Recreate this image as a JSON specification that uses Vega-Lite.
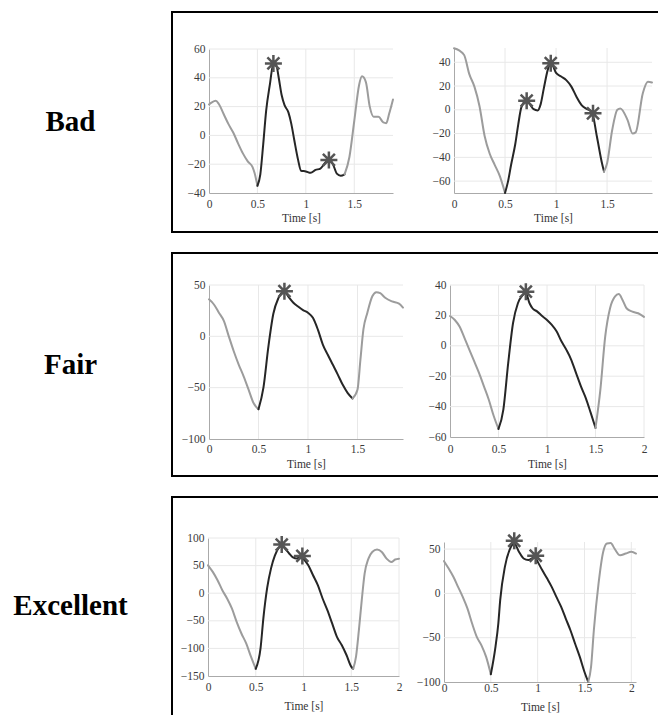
{
  "$schema": "https://vega.github.io/schema/vega-lite/v6.json",
  "padding": {"left": 0, "top": 11, "right": 0, "bottom": 0},
  "background": "white",
  "spacing": 19,
  "config": {
    "view": {"stroke": null},
    "axis": {
      "labelFont": "Liberation Serif", "labelFontSize": 11.5, "labelColor": "#3a3a3a",
      "titleFont": "Liberation Serif", "titleFontSize": 11.5, "titleFontWeight": "normal", "titleColor": "#333333",
      "domainColor": "#aaaaaa", "domainWidth": 1, "ticks": false, "grid": false,
      "labelFlush": false, "labelOverlap": false, "labelPadding": 4, "titlePadding": 4
    },
    "line": {"strokeWidth": 2, "interpolate": "monotone", "strokeJoin": "round", "strokeCap": "round"},
    "rule": {"color": "#e8e8e8", "strokeWidth": 1},
    "point": {"shape": "M0,-1L0,1M-1,0L1,0M-0.707,-0.707L0.707,0.707M-0.707,0.707L0.707,-0.707", "size": 289, "filled": false, "color": "#555555", "strokeWidth": 2.5, "opacity": 1}
  },
  "datasets": {
    "p1": [
      {"t":0,"v":21.5,"s":"a"},{"t":0.03,"v":23,"s":"a"},{"t":0.07,"v":24,"s":"a"},{"t":0.1,"v":22,"s":"a"},{"t":0.15,"v":15,"s":"a"},{"t":0.2,"v":8,"s":"a"},{"t":0.25,"v":2,"s":"a"},{"t":0.3,"v":-5.5,"s":"a"},{"t":0.35,"v":-12.5,"s":"a"},{"t":0.4,"v":-18,"s":"a"},{"t":0.45,"v":-22,"s":"a"},{"t":0.47,"v":-26,"s":"a"},{"t":0.5,"v":-35,"s":"a"},
      {"t":0.5,"v":-35,"s":"b"},{"t":0.53,"v":-27,"s":"b"},{"t":0.56,"v":-6,"s":"b"},{"t":0.59,"v":17,"s":"b"},{"t":0.63,"v":36,"s":"b"},{"t":0.665,"v":50,"s":"b"},{"t":0.69,"v":50,"s":"b"},{"t":0.72,"v":40,"s":"b"},{"t":0.75,"v":28,"s":"b"},{"t":0.78,"v":21,"s":"b"},{"t":0.82,"v":16,"s":"b"},{"t":0.85,"v":8,"s":"b"},{"t":0.88,"v":-3,"s":"b"},{"t":0.92,"v":-17,"s":"b"},{"t":0.95,"v":-24.5,"s":"b"},{"t":1.0,"v":-25,"s":"b"},{"t":1.05,"v":-26,"s":"b"},{"t":1.1,"v":-24,"s":"b"},{"t":1.15,"v":-23,"s":"b"},{"t":1.2,"v":-19,"s":"b"},{"t":1.24,"v":-16.5,"s":"b"},{"t":1.28,"v":-20,"s":"b"},{"t":1.32,"v":-26.5,"s":"b"},{"t":1.36,"v":-28,"s":"b"},{"t":1.4,"v":-27,"s":"b"},
      {"t":1.4,"v":-27,"s":"c"},{"t":1.45,"v":-15,"s":"c"},{"t":1.5,"v":10,"s":"c"},{"t":1.55,"v":35,"s":"c"},{"t":1.58,"v":41,"s":"c"},{"t":1.62,"v":37,"s":"c"},{"t":1.66,"v":20,"s":"c"},{"t":1.7,"v":13,"s":"c"},{"t":1.75,"v":13,"s":"c"},{"t":1.8,"v":9,"s":"c"},{"t":1.83,"v":8.5,"s":"c"},{"t":1.86,"v":15,"s":"c"},{"t":1.9,"v":25,"s":"c"}
    ],
    "m1": [{"t":0.665,"v":50},{"t":1.238,"v":-17}],
    "p2": [
      {"t":0,"v":51.8,"s":"a"},{"t":0.05,"v":50,"s":"a"},{"t":0.1,"v":46,"s":"a"},{"t":0.15,"v":30,"s":"a"},{"t":0.2,"v":19.5,"s":"a"},{"t":0.25,"v":3,"s":"a"},{"t":0.3,"v":-22,"s":"a"},{"t":0.35,"v":-37,"s":"a"},{"t":0.4,"v":-46.5,"s":"a"},{"t":0.45,"v":-56,"s":"a"},{"t":0.48,"v":-64,"s":"a"},{"t":0.5,"v":-70,"s":"a"},
      {"t":0.5,"v":-70,"s":"b"},{"t":0.53,"v":-60,"s":"b"},{"t":0.56,"v":-46,"s":"b"},{"t":0.6,"v":-29,"s":"b"},{"t":0.63,"v":-12,"s":"b"},{"t":0.66,"v":2,"s":"b"},{"t":0.71,"v":8,"s":"b"},{"t":0.74,"v":5,"s":"b"},{"t":0.78,"v":0.5,"s":"b"},{"t":0.82,"v":-0.5,"s":"b"},{"t":0.85,"v":5,"s":"b"},{"t":0.88,"v":18,"s":"b"},{"t":0.92,"v":34,"s":"b"},{"t":0.95,"v":39.5,"s":"b"},{"t":1.0,"v":31,"s":"b"},{"t":1.05,"v":28,"s":"b"},{"t":1.1,"v":25,"s":"b"},{"t":1.15,"v":19.5,"s":"b"},{"t":1.2,"v":11,"s":"b"},{"t":1.25,"v":4,"s":"b"},{"t":1.3,"v":0.7,"s":"b"},{"t":1.35,"v":-1.5,"s":"b"},{"t":1.4,"v":-22.5,"s":"b"},{"t":1.45,"v":-45,"s":"b"},{"t":1.47,"v":-52,"s":"b"},
      {"t":1.47,"v":-52,"s":"c"},{"t":1.5,"v":-45,"s":"c"},{"t":1.55,"v":-17,"s":"c"},{"t":1.6,"v":0,"s":"c"},{"t":1.63,"v":1.2,"s":"c"},{"t":1.7,"v":-8.5,"s":"c"},{"t":1.75,"v":-20,"s":"c"},{"t":1.78,"v":-19,"s":"c"},{"t":1.85,"v":14,"s":"c"},{"t":1.9,"v":23.7,"s":"c"},{"t":1.94,"v":23,"s":"c"}
    ],
    "m2": [{"t":0.712,"v":7.7},{"t":0.948,"v":39.2},{"t":1.362,"v":-3}],
    "p3": [
      {"t":0,"v":36,"s":"a"},{"t":0.05,"v":31,"s":"a"},{"t":0.1,"v":23,"s":"a"},{"t":0.15,"v":15,"s":"a"},{"t":0.2,"v":0,"s":"a"},{"t":0.25,"v":-14.5,"s":"a"},{"t":0.3,"v":-27.5,"s":"a"},{"t":0.35,"v":-39,"s":"a"},{"t":0.4,"v":-52,"s":"a"},{"t":0.45,"v":-65,"s":"a"},{"t":0.5,"v":-71,"s":"a"},
      {"t":0.5,"v":-71,"s":"b"},{"t":0.55,"v":-50,"s":"b"},{"t":0.6,"v":-10,"s":"b"},{"t":0.65,"v":22,"s":"b"},{"t":0.7,"v":37,"s":"b"},{"t":0.76,"v":44,"s":"b"},{"t":0.8,"v":39,"s":"b"},{"t":0.85,"v":33,"s":"b"},{"t":0.9,"v":29,"s":"b"},{"t":0.95,"v":25.5,"s":"b"},{"t":1.0,"v":23,"s":"b"},{"t":1.05,"v":18,"s":"b"},{"t":1.1,"v":6.5,"s":"b"},{"t":1.15,"v":-8,"s":"b"},{"t":1.2,"v":-18,"s":"b"},{"t":1.25,"v":-27.5,"s":"b"},{"t":1.3,"v":-37,"s":"b"},{"t":1.35,"v":-47,"s":"b"},{"t":1.4,"v":-55,"s":"b"},{"t":1.45,"v":-60.5,"s":"b"},
      {"t":1.45,"v":-60.5,"s":"c"},{"t":1.5,"v":-52,"s":"c"},{"t":1.53,"v":-22.5,"s":"c"},{"t":1.56,"v":6.7,"s":"c"},{"t":1.6,"v":23,"s":"c"},{"t":1.65,"v":39,"s":"c"},{"t":1.69,"v":43,"s":"c"},{"t":1.73,"v":42,"s":"c"},{"t":1.78,"v":37.6,"s":"c"},{"t":1.85,"v":34,"s":"c"},{"t":1.92,"v":31.8,"s":"c"},{"t":1.96,"v":28,"s":"c"}
    ],
    "m3": [{"t":0.762,"v":44}],
    "p4": [
      {"t":0,"v":19.6,"s":"a"},{"t":0.05,"v":17,"s":"a"},{"t":0.1,"v":12.5,"s":"a"},{"t":0.15,"v":5,"s":"a"},{"t":0.2,"v":-2.7,"s":"a"},{"t":0.25,"v":-10.3,"s":"a"},{"t":0.3,"v":-18,"s":"a"},{"t":0.35,"v":-26.7,"s":"a"},{"t":0.4,"v":-35.5,"s":"a"},{"t":0.45,"v":-46,"s":"a"},{"t":0.5,"v":-54.7,"s":"a"},
      {"t":0.5,"v":-54.7,"s":"b"},{"t":0.55,"v":-42,"s":"b"},{"t":0.6,"v":-11.4,"s":"b"},{"t":0.65,"v":15,"s":"b"},{"t":0.7,"v":28,"s":"b"},{"t":0.75,"v":33.4,"s":"b"},{"t":0.78,"v":35,"s":"b"},{"t":0.82,"v":28,"s":"b"},{"t":0.85,"v":24.7,"s":"b"},{"t":0.9,"v":22.5,"s":"b"},{"t":0.95,"v":19.6,"s":"b"},{"t":1.0,"v":17,"s":"b"},{"t":1.05,"v":13.7,"s":"b"},{"t":1.1,"v":9.4,"s":"b"},{"t":1.15,"v":2.8,"s":"b"},{"t":1.2,"v":-2.7,"s":"b"},{"t":1.25,"v":-9.2,"s":"b"},{"t":1.3,"v":-18,"s":"b"},{"t":1.35,"v":-26.7,"s":"b"},{"t":1.4,"v":-34.4,"s":"b"},{"t":1.45,"v":-44,"s":"b"},{"t":1.5,"v":-54,"s":"b"},
      {"t":1.5,"v":-54,"s":"c"},{"t":1.55,"v":-29,"s":"c"},{"t":1.6,"v":6,"s":"c"},{"t":1.65,"v":24.7,"s":"c"},{"t":1.7,"v":32.3,"s":"c"},{"t":1.74,"v":34,"s":"c"},{"t":1.78,"v":30,"s":"c"},{"t":1.82,"v":24.7,"s":"c"},{"t":1.88,"v":22.5,"s":"c"},{"t":1.94,"v":21.4,"s":"c"},{"t":2.0,"v":19,"s":"c"}
    ],
    "m4": [{"t":0.782,"v":35.6}],
    "p5": [
      {"t":0,"v":50.6,"s":"a"},{"t":0.05,"v":38.6,"s":"a"},{"t":0.1,"v":23.5,"s":"a"},{"t":0.15,"v":5.4,"s":"a"},{"t":0.2,"v":-9.6,"s":"a"},{"t":0.25,"v":-27.7,"s":"a"},{"t":0.3,"v":-51.8,"s":"a"},{"t":0.35,"v":-73,"s":"a"},{"t":0.4,"v":-91,"s":"a"},{"t":0.45,"v":-115,"s":"a"},{"t":0.5,"v":-137,"s":"a"},
      {"t":0.5,"v":-137,"s":"b"},{"t":0.55,"v":-100,"s":"b"},{"t":0.58,"v":-45,"s":"b"},{"t":0.62,"v":10,"s":"b"},{"t":0.66,"v":45,"s":"b"},{"t":0.7,"v":68,"s":"b"},{"t":0.74,"v":82,"s":"b"},{"t":0.77,"v":86,"s":"b"},{"t":0.81,"v":80,"s":"b"},{"t":0.85,"v":72,"s":"b"},{"t":0.89,"v":65,"s":"b"},{"t":0.93,"v":63,"s":"b"},{"t":0.97,"v":66,"s":"b"},{"t":1.0,"v":62,"s":"b"},{"t":1.05,"v":50.6,"s":"b"},{"t":1.1,"v":32.5,"s":"b"},{"t":1.15,"v":14.5,"s":"b"},{"t":1.2,"v":-9.6,"s":"b"},{"t":1.25,"v":-30.7,"s":"b"},{"t":1.3,"v":-54.8,"s":"b"},{"t":1.35,"v":-79,"s":"b"},{"t":1.4,"v":-94,"s":"b"},{"t":1.45,"v":-112,"s":"b"},{"t":1.5,"v":-133,"s":"b"},{"t":1.52,"v":-137,"s":"b"},
      {"t":1.52,"v":-137,"s":"c"},{"t":1.55,"v":-115,"s":"c"},{"t":1.58,"v":-67,"s":"c"},{"t":1.61,"v":-12.6,"s":"c"},{"t":1.64,"v":35.5,"s":"c"},{"t":1.68,"v":62.6,"s":"c"},{"t":1.72,"v":74.7,"s":"c"},{"t":1.77,"v":79,"s":"c"},{"t":1.82,"v":74.7,"s":"c"},{"t":1.87,"v":62.6,"s":"c"},{"t":1.92,"v":56.6,"s":"c"},{"t":1.96,"v":61,"s":"c"},{"t":2.0,"v":62.6,"s":"c"}
    ],
    "m5": [{"t":0.772,"v":88},{"t":0.988,"v":67.5}],
    "p6": [
      {"t":0,"v":36.4,"s":"a"},{"t":0.05,"v":28,"s":"a"},{"t":0.1,"v":18.7,"s":"a"},{"t":0.15,"v":7.4,"s":"a"},{"t":0.2,"v":-4,"s":"a"},{"t":0.25,"v":-17,"s":"a"},{"t":0.3,"v":-34,"s":"a"},{"t":0.35,"v":-49,"s":"a"},{"t":0.4,"v":-58.6,"s":"a"},{"t":0.45,"v":-71.7,"s":"a"},{"t":0.5,"v":-91.3,"s":"a"},
      {"t":0.5,"v":-91.3,"s":"b"},{"t":0.55,"v":-60,"s":"b"},{"t":0.58,"v":-34,"s":"b"},{"t":0.6,"v":-7.7,"s":"b"},{"t":0.65,"v":30,"s":"b"},{"t":0.7,"v":49,"s":"b"},{"t":0.75,"v":56.4,"s":"b"},{"t":0.8,"v":47,"s":"b"},{"t":0.85,"v":39.4,"s":"b"},{"t":0.9,"v":37.6,"s":"b"},{"t":0.97,"v":41,"s":"b"},{"t":1.0,"v":35.7,"s":"b"},{"t":1.05,"v":26,"s":"b"},{"t":1.1,"v":17,"s":"b"},{"t":1.15,"v":7.4,"s":"b"},{"t":1.2,"v":-4,"s":"b"},{"t":1.25,"v":-15,"s":"b"},{"t":1.3,"v":-28.4,"s":"b"},{"t":1.35,"v":-41.6,"s":"b"},{"t":1.4,"v":-56.8,"s":"b"},{"t":1.45,"v":-71.7,"s":"b"},{"t":1.5,"v":-88.7,"s":"b"},{"t":1.54,"v":-100,"s":"b"},
      {"t":1.54,"v":-100,"s":"c"},{"t":1.57,"v":-83,"s":"c"},{"t":1.6,"v":-41.6,"s":"c"},{"t":1.65,"v":11,"s":"c"},{"t":1.7,"v":47,"s":"c"},{"t":1.74,"v":56.4,"s":"c"},{"t":1.78,"v":57,"s":"c"},{"t":1.82,"v":50.7,"s":"c"},{"t":1.88,"v":43,"s":"c"},{"t":1.94,"v":45,"s":"c"},{"t":2.0,"v":47,"s":"c"},{"t":2.05,"v":45,"s":"c"}
    ],
    "m6": [{"t":0.75,"v":59.4},{"t":0.979,"v":42.5}]
  },
  "vconcat": [
    {
      "spacing": 0,
      "hconcat": [
        {
          "width": 171, "height": 220,
          "data": {"values": [{"label": "Bad"}]},
          "mark": {"type": "text", "font": "Liberation Serif", "fontSize": 29, "fontWeight": "bold", "color": "black", "dx": -15, "baseline": "middle", "align": "center"},
          "encoding": {"text": {"field": "label"}}
        },
        {
          "width": 486, "height": 220,
          "view": {"stroke": "black", "strokeWidth": 2, "strokeDash": [486, 220, 706]},
          "resolve": {"scale": {"x": "independent", "y": "independent"}, "axis": {"x": "independent", "y": "independent"}},
          "layer": [
            {
              "layer": [
                {"data": {"values": [{"v":0.5},{"v":1},{"v":1.5}]}, "mark": "rule",
                 "encoding": {"x": {"field": "v", "type": "quantitative"}, "y": {"datum": -40}, "y2": {"datum": 60}}},
                {"data": {"values": [{"v":-20},{"v":0},{"v":20},{"v":40},{"v":60}]}, "mark": "rule",
                 "encoding": {"y": {"field": "v", "type": "quantitative"}, "x": {"datum": 0}, "x2": {"datum": 1.9}}},
                {"data": {"name": "p1"}, "mark": "line",
                 "encoding": {
                   "x": {"field": "t", "type": "quantitative", "scale": {"domain": [0, 1.9], "range": [37, 221], "nice": false, "zero": false},
                         "axis": {"title": "Time [s]", "orient": "bottom", "offset": -39, "values": [0, 0.5, 1, 1.5], "format": "~f", "labelPadding": 5, "titlePadding": 3, "labelFlush": false, "labelOverlap": false, "grid": false}},
                   "y": {"field": "v", "type": "quantitative", "scale": {"domain": [-40, 60], "range": [181, 37], "nice": false, "zero": false},
                         "axis": {"title": null, "orient": "left", "offset": -37, "values": [-40, -20, 0, 20, 40, 60], "format": "~f", "labelFlush": false, "labelOverlap": false, "grid": false}},
                   "color": {"field": "s", "type": "nominal", "scale": {"domain": ["a", "b", "c"], "range": ["#9c9c9c", "#262626", "#9c9c9c"]}, "legend": null}
                 }},
                {"data": {"name": "m1"}, "mark": "point",
                 "encoding": {"x": {"field": "t", "type": "quantitative"}, "y": {"field": "v", "type": "quantitative"}}}
              ]
            },
            {
              "layer": [
                {"data": {"values": [{"v":0.5},{"v":1},{"v":1.5}]}, "mark": "rule",
                 "encoding": {"x": {"field": "v", "type": "quantitative"}, "y": {"datum": -70}, "y2": {"datum": 52}}},
                {"data": {"values": [{"v":-60},{"v":-40},{"v":-20},{"v":0},{"v":20},{"v":40}]}, "mark": "rule",
                 "encoding": {"y": {"field": "v", "type": "quantitative"}, "x": {"datum": 0}, "x2": {"datum": 1.94}}},
                {"data": {"name": "p2"}, "mark": "line",
                 "encoding": {
                   "x": {"field": "t", "type": "quantitative", "scale": {"domain": [0, 1.94], "range": [282, 480], "nice": false, "zero": false},
                         "axis": {"title": "Time [s]", "orient": "bottom", "offset": -39, "values": [0, 0.5, 1, 1.5], "format": "~f", "labelPadding": 5, "titlePadding": 3, "labelFlush": false, "labelOverlap": false, "grid": false}},
                   "y": {"field": "v", "type": "quantitative", "scale": {"domain": [-70, 52], "range": [181, 36], "nice": false, "zero": false},
                         "axis": {"title": null, "orient": "left", "offset": -282, "values": [-60, -40, -20, 0, 20, 40], "format": "~f", "labelFlush": false, "labelOverlap": false, "grid": false}},
                   "color": {"field": "s", "type": "nominal", "legend": null}
                 }},
                {"data": {"name": "m2"}, "mark": "point",
                 "encoding": {"x": {"field": "t", "type": "quantitative"}, "y": {"field": "v", "type": "quantitative"}}}
              ]
            }
          ]
        }
      ]
    },
    {
      "spacing": 0,
      "hconcat": [
        {
          "width": 171, "height": 223,
          "data": {"values": [{"label": "Fair"}]},
          "mark": {"type": "text", "font": "Liberation Serif", "fontSize": 29, "fontWeight": "bold", "color": "black", "dx": -15, "baseline": "middle", "align": "center"},
          "encoding": {"text": {"field": "label"}}
        },
        {
          "width": 486, "height": 223,
          "view": {"stroke": "black", "strokeWidth": 2, "strokeDash": [486, 223, 709]},
          "resolve": {"scale": {"x": "independent", "y": "independent"}, "axis": {"x": "independent", "y": "independent"}},
          "layer": [
            {
              "layer": [
                {"data": {"values": [{"v":0.5},{"v":1},{"v":1.5}]}, "mark": "rule",
                 "encoding": {"x": {"field": "v", "type": "quantitative"}, "y": {"datum": -100}, "y2": {"datum": 50}}},
                {"data": {"values": [{"v":-50},{"v":0},{"v":50}]}, "mark": "rule",
                 "encoding": {"y": {"field": "v", "type": "quantitative"}, "x": {"datum": 0}, "x2": {"datum": 1.96}}},
                {"data": {"name": "p3"}, "mark": "line",
                 "encoding": {
                   "x": {"field": "t", "type": "quantitative", "scale": {"domain": [0, 1.96], "range": [37, 231], "nice": false, "zero": false},
                         "axis": {"title": "Time [s]", "orient": "bottom", "offset": -37, "values": [0, 0.5, 1, 1.5], "format": "~f", "labelPadding": 4, "titlePadding": 4, "labelFlush": false, "labelOverlap": false, "grid": false}},
                   "y": {"field": "v", "type": "quantitative", "scale": {"domain": [-100, 50], "range": [186, 32], "nice": false, "zero": false},
                         "axis": {"title": null, "orient": "left", "offset": -37, "values": [-100, -50, 0, 50], "format": "~f", "labelFlush": false, "labelOverlap": false, "grid": false}},
                   "color": {"field": "s", "type": "nominal", "legend": null}
                 }},
                {"data": {"name": "m3"}, "mark": "point",
                 "encoding": {"x": {"field": "t", "type": "quantitative"}, "y": {"field": "v", "type": "quantitative"}}}
              ]
            },
            {
              "layer": [
                {"data": {"values": [{"v":0.5},{"v":1},{"v":1.5},{"v":2}]}, "mark": "rule",
                 "encoding": {"x": {"field": "v", "type": "quantitative"}, "y": {"datum": -60}, "y2": {"datum": 40}}},
                {"data": {"values": [{"v":-40},{"v":-20},{"v":0},{"v":20},{"v":40}]}, "mark": "rule",
                 "encoding": {"y": {"field": "v", "type": "quantitative"}, "x": {"datum": 0}, "x2": {"datum": 2}}},
                {"data": {"name": "p4"}, "mark": "line",
                 "encoding": {
                   "x": {"field": "t", "type": "quantitative", "scale": {"domain": [0, 2], "range": [278, 472], "nice": false, "zero": false},
                         "axis": {"title": "Time [s]", "orient": "bottom", "offset": -39, "values": [0, 0.5, 1, 1.5, 2], "format": "~f", "labelPadding": 6, "titlePadding": 4, "labelFlush": false, "labelOverlap": false, "grid": false}},
                   "y": {"field": "v", "type": "quantitative", "scale": {"domain": [-60, 40], "range": [184, 32], "nice": false, "zero": false},
                         "axis": {"title": null, "orient": "left", "offset": -278, "values": [-60, -40, -20, 0, 20, 40], "format": "~f", "labelFlush": false, "labelOverlap": false, "grid": false}},
                   "color": {"field": "s", "type": "nominal", "legend": null}
                 }},
                {"data": {"name": "m4"}, "mark": "point",
                 "encoding": {"x": {"field": "t", "type": "quantitative"}, "y": {"field": "v", "type": "quantitative"}}}
              ]
            }
          ]
        }
      ]
    },
    {
      "spacing": 0,
      "hconcat": [
        {
          "width": 171, "height": 218,
          "data": {"values": [{"label": "Excellent"}]},
          "mark": {"type": "text", "font": "Liberation Serif", "fontSize": 29, "fontWeight": "bold", "color": "black", "dx": -15, "baseline": "middle", "align": "center"},
          "encoding": {"text": {"field": "label"}}
        },
        {
          "width": 486, "height": 218,
          "view": {"stroke": "black", "strokeWidth": 2, "strokeDash": [486, 704, 218]},
          "resolve": {"scale": {"x": "independent", "y": "independent"}, "axis": {"x": "independent", "y": "independent"}},
          "layer": [
            {
              "layer": [
                {"data": {"values": [{"v":0.5},{"v":1},{"v":1.5},{"v":2}]}, "mark": "rule",
                 "encoding": {"x": {"field": "v", "type": "quantitative"}, "y": {"datum": -150}, "y2": {"datum": 100}}},
                {"data": {"values": [{"v":-100},{"v":-50},{"v":0},{"v":50},{"v":100}]}, "mark": "rule",
                 "encoding": {"y": {"field": "v", "type": "quantitative"}, "x": {"datum": 0}, "x2": {"datum": 2}}},
                {"data": {"name": "p5"}, "mark": "line",
                 "encoding": {
                   "x": {"field": "t", "type": "quantitative", "scale": {"domain": [0, 2], "range": [36, 227], "nice": false, "zero": false},
                         "axis": {"title": "Time [s]", "orient": "bottom", "offset": -39, "values": [0, 0.5, 1, 1.5, 2], "format": "~f", "labelPadding": 5, "titlePadding": 8, "labelFlush": false, "labelOverlap": false, "grid": false}},
                   "y": {"field": "v", "type": "quantitative", "scale": {"domain": [-150, 100], "range": [179, 41], "nice": false, "zero": false},
                         "axis": {"title": null, "orient": "left", "offset": -36, "values": [-150, -100, -50, 0, 50, 100], "format": "~f", "labelFlush": false, "labelOverlap": false, "grid": false}},
                   "color": {"field": "s", "type": "nominal", "legend": null}
                 }},
                {"data": {"name": "m5"}, "mark": "point",
                 "encoding": {"x": {"field": "t", "type": "quantitative"}, "y": {"field": "v", "type": "quantitative"}}}
              ]
            },
            {
              "layer": [
                {"data": {"values": [{"v":0.5},{"v":1},{"v":1.5},{"v":2}]}, "mark": "rule",
                 "encoding": {"x": {"field": "v", "type": "quantitative"}, "y": {"datum": -100}, "y2": {"datum": 58}}},
                {"data": {"values": [{"v":-50},{"v":0},{"v":50}]}, "mark": "rule",
                 "encoding": {"y": {"field": "v", "type": "quantitative"}, "x": {"datum": 0}, "x2": {"datum": 2.05}}},
                {"data": {"name": "p6"}, "mark": "line",
                 "encoding": {
                   "x": {"field": "t", "type": "quantitative", "scale": {"domain": [0, 2.05], "range": [272, 464], "nice": false, "zero": false},
                         "axis": {"title": "Time [s]", "orient": "bottom", "offset": -33, "values": [0, 0.5, 1, 1.5, 2], "format": "~f", "labelPadding": 0, "titlePadding": 7.5, "labelFlush": false, "labelOverlap": false, "grid": false}},
                   "y": {"field": "v", "type": "quantitative", "scale": {"domain": [-100, 58], "range": [185, 45], "nice": false, "zero": false},
                         "axis": {"title": null, "orient": "left", "offset": -272, "values": [-100, -50, 0, 50], "format": "~f", "labelFlush": false, "labelOverlap": false, "grid": false}},
                   "color": {"field": "s", "type": "nominal", "legend": null}
                 }},
                {"data": {"name": "m6"}, "mark": "point",
                 "encoding": {"x": {"field": "t", "type": "quantitative"}, "y": {"field": "v", "type": "quantitative"}}}
              ]
            }
          ]
        }
      ]
    }
  ]
}
